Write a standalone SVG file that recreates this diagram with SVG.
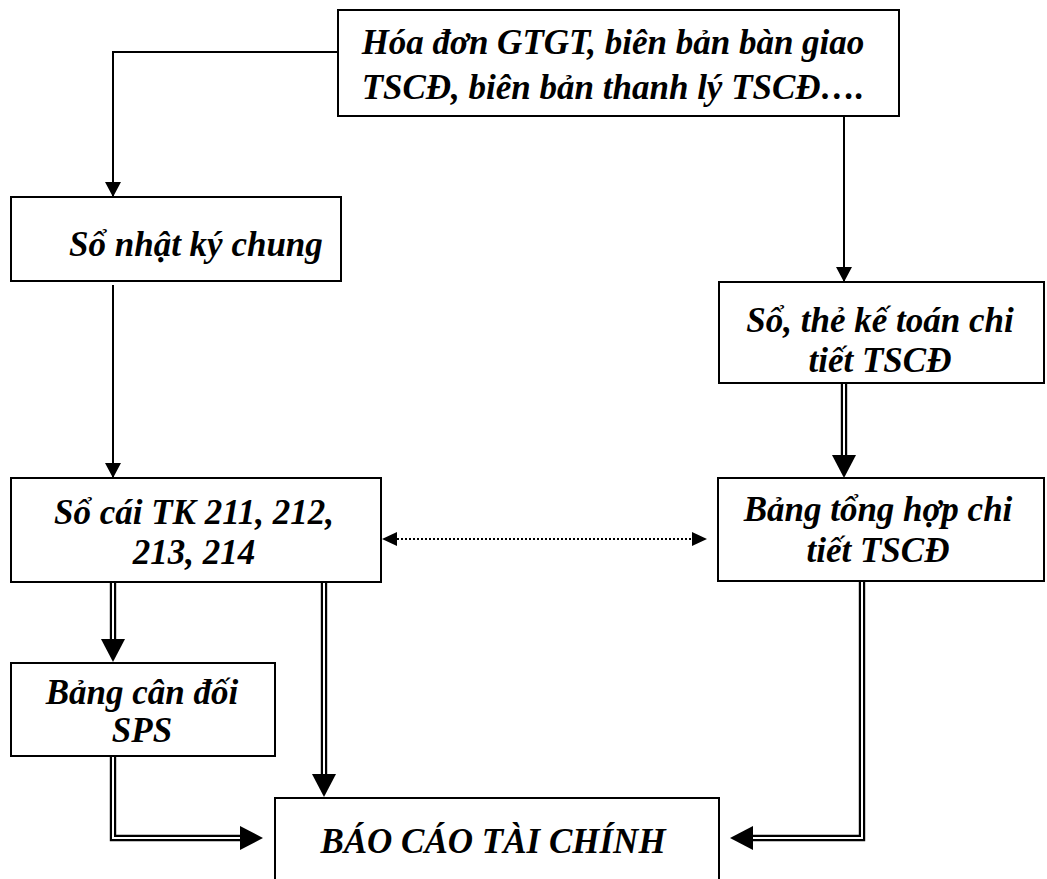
<svg xmlns="http://www.w3.org/2000/svg" width="1047" height="879" viewBox="0 0 1047 879">
  <style>
    .box { fill: #fff; stroke: #000; stroke-width: 2; }
    .lbl { font-family: "Liberation Serif", "Times New Roman", serif; font-size: 35px; font-weight: bold; font-style: italic; fill: #000; text-anchor: middle; }
    .single { fill: none; stroke: #000; stroke-width: 2; }
    .dbl-outer { fill: none; stroke: #000; stroke-width: 6.4; stroke-linejoin: miter; }
    .dbl-inner { fill: none; stroke: #fff; stroke-width: 2; stroke-linejoin: miter; }
    .dotted { fill: none; stroke: #000; stroke-width: 2; stroke-dasharray: 2 2; }
  </style>
  <defs>
    <!-- small head for thin lines, tip at the path end -->
    <marker id="headThin" markerUnits="userSpaceOnUse" markerWidth="16" markerHeight="16" refX="15" refY="8" orient="auto">
      <path d="M0,0 L15,8 L0,16 z" fill="#000"/>
    </marker>
    <!-- large head for double lines, base at the path end -->
    <marker id="headDouble" markerUnits="userSpaceOnUse" markerWidth="24" markerHeight="24" refX="0" refY="12" orient="auto">
      <path d="M0,0 L23,12 L0,24 z" fill="#000"/>
    </marker>
    <!-- head for the dotted two-way link, base at the path end -->
    <marker id="headDot" markerUnits="userSpaceOnUse" markerWidth="16" markerHeight="16" refX="0" refY="7" orient="auto-start-reverse">
      <path d="M0,0 L15,7 L0,14 z" fill="#000"/>
    </marker>
  </defs>

  <g id="connectors">
    <!-- source documents to general journal -->
    <path class="single" d="M338,52 L113,52 L113,197" marker-end="url(#headThin)"/>
    <!-- source documents to detail ledgers -->
    <path class="single" d="M844,116 L844,282" marker-end="url(#headThin)"/>
    <!-- general journal to general ledger -->
    <path class="single" d="M113,285 L113,478" marker-end="url(#headThin)"/>

    <!-- detail ledgers to detail summary -->
    <path class="dbl-outer" d="M844,383 L844,455" marker-end="url(#headDouble)"/>
    <path class="dbl-inner" d="M844,383 L844,455"/>

    <!-- general ledger to trial balance -->
    <path class="dbl-outer" d="M113,582 L113,639" marker-end="url(#headDouble)"/>
    <path class="dbl-inner" d="M113,582 L113,639"/>

    <!-- general ledger to financial statements -->
    <path class="dbl-outer" d="M324,582 L324,774" marker-end="url(#headDouble)"/>
    <path class="dbl-inner" d="M324,582 L324,774"/>

    <!-- trial balance to financial statements -->
    <path class="dbl-outer" d="M113,756 L113,838 L240,838" marker-end="url(#headDouble)"/>
    <path class="dbl-inner" d="M113,756 L113,838 L240,838"/>

    <!-- detail summary to financial statements -->
    <path class="dbl-outer" d="M862,581 L862,838 L753,838" marker-end="url(#headDouble)"/>
    <path class="dbl-inner" d="M862,581 L862,838 L753,838"/>

    <!-- reconciliation between ledger and detail summary -->
    <path class="dotted" d="M397,539 L692,539" marker-start="url(#headDot)" marker-end="url(#headDot)"/>
  </g>

  <g id="node-source">
    <rect class="box" x="338" y="10" width="561" height="106"/>
    <text class="lbl" x="613" y="54">Hóa đơn GTGT, biên bản bàn giao</text>
    <text class="lbl" x="613" y="99">TSCĐ, biên bản thanh lý TSCĐ….</text>
  </g>

  <g id="node-journal">
    <rect class="box" x="11" y="197" width="330" height="84"/>
    <text class="lbl" x="69" y="256" style="text-anchor:start">Sổ nhật ký chung</text>
  </g>

  <g id="node-detail">
    <rect class="box" x="719" y="282" width="325" height="101"/>
    <text class="lbl" x="880" y="332">Sổ, thẻ kế toán chi</text>
    <text class="lbl" x="880" y="372">tiết TSCĐ</text>
  </g>

  <g id="node-ledger">
    <rect class="box" x="11" y="478" width="370" height="104"/>
    <text class="lbl" x="194" y="524">Sổ cái TK 211, 212,</text>
    <text class="lbl" x="194" y="564">213, 214</text>
  </g>

  <g id="node-summary">
    <rect class="box" x="718" y="478" width="326" height="103"/>
    <text class="lbl" x="878" y="521">Bảng tổng hợp chi</text>
    <text class="lbl" x="878" y="562">tiết TSCĐ</text>
  </g>

  <g id="node-balance">
    <rect class="box" x="11" y="663" width="264" height="93"/>
    <text class="lbl" x="142" y="704">Bảng cân đối</text>
    <text class="lbl" x="142" y="742">SPS</text>
  </g>

  <g id="node-report">
    <rect class="box" x="275" y="798" width="444" height="100"/>
    <text class="lbl" x="493" y="853">BÁO CÁO TÀI CHÍNH</text>
  </g>
</svg>
